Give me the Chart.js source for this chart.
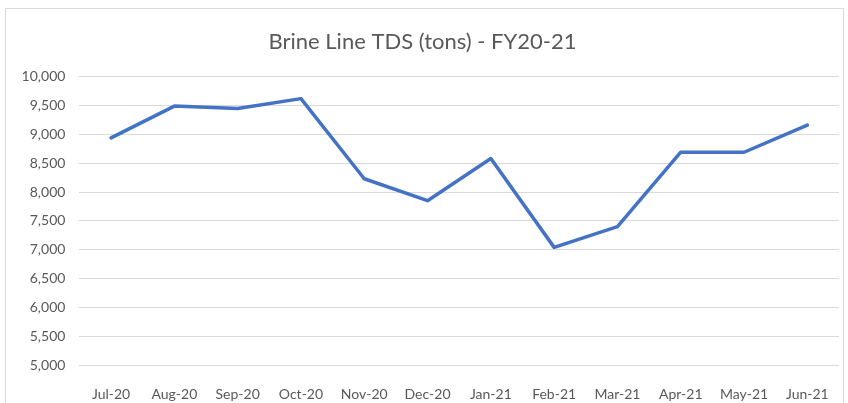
<!DOCTYPE html>
<html>
<head>
<meta charset="utf-8">
<script src="https://cdn.jsdelivr.net/npm/chart.js@4"></script>
<style>
  html, body { margin: 0; padding: 0; background: #fff; }
  #wrap { position: relative; width: 848px; height: 403px; overflow: hidden; }
  #frame { position: absolute; left: 5px; top: 8px; width: 837px; height: 420px; border: 1px solid #d9d9d9; }
  canvas { position: absolute; left: 0; top: 0; }
</style>
</head>
<body>
<div id="wrap">
  <div id="frame"></div>
  <canvas id="chart" width="848" height="403"></canvas>
</div>
<script>
var months = ["Jul-20", "Aug-20", "Sep-20", "Oct-20", "Nov-20", "Dec-20", "Jan-21", "Feb-21", "Mar-21", "Apr-21", "May-21", "Jun-21"];
var tdsTons = [8940, 9490, 9450, 9620, 8230, 7850, 8580, 7040, 7400, 8690, 8690, 9160];
var yMin = 5000;
var yMax = 10000;
var yStep = 500;

var textColor = '#595959';
var gridColor = '#d9d9d9';
var fontName = 'Lato, "Liberation Sans", sans-serif';

var ctx = document.getElementById("chart").getContext('2d');

var tdsChart = new Chart(ctx, {
	type: 'line',
	data: {
		labels: months,
		datasets: [{
			label: 'Brine Line TDS (tons)',
			data: tdsTons,
			borderColor: '#4472C4',
			backgroundColor: '#4472C4',
			borderWidth: 3.5,
			pointRadius: 0,
			tension: 0,
			borderJoinStyle: 'round',
			borderCapStyle: 'round'
		}]
	},
	options: {
		responsive: false,
		animation: false,
		locale: 'en-US',
		layout: { padding: { left: 6, right: 9, top: 0, bottom: 0 } },
		plugins: {
			legend: { display: false },
			tooltip: { enabled: false },
			title: {
				display: true,
				text: 'Brine Line TDS (tons) - FY20-21',
				color: textColor,
				font: { family: fontName, size: 22, weight: 'normal' },
				padding: { top: 29, bottom: 21.3 }
			}
		},
		scales: {
			x: {
				offset: true,
				grid: { display: false },
				border: { display: false },
				ticks: {
					color: textColor,
					font: { family: fontName, size: 14 },
					padding: 13,
					maxRotation: 0,
					autoSkip: false
				},
				afterFit: function(scale) { scale.height = 38; }
			},
			y: {
				min: yMin,
				max: yMax,
				grid: { color: gridColor, lineWidth: 1, drawTicks: false },
				border: { display: false },
				ticks: {
					stepSize: yStep,
					color: textColor,
					font: { family: fontName, size: 14 },
					padding: 14
				},
				afterFit: function(scale) { scale.width = 73.4; }
			}
		}
	}
});
</script>
</body>
</html>
